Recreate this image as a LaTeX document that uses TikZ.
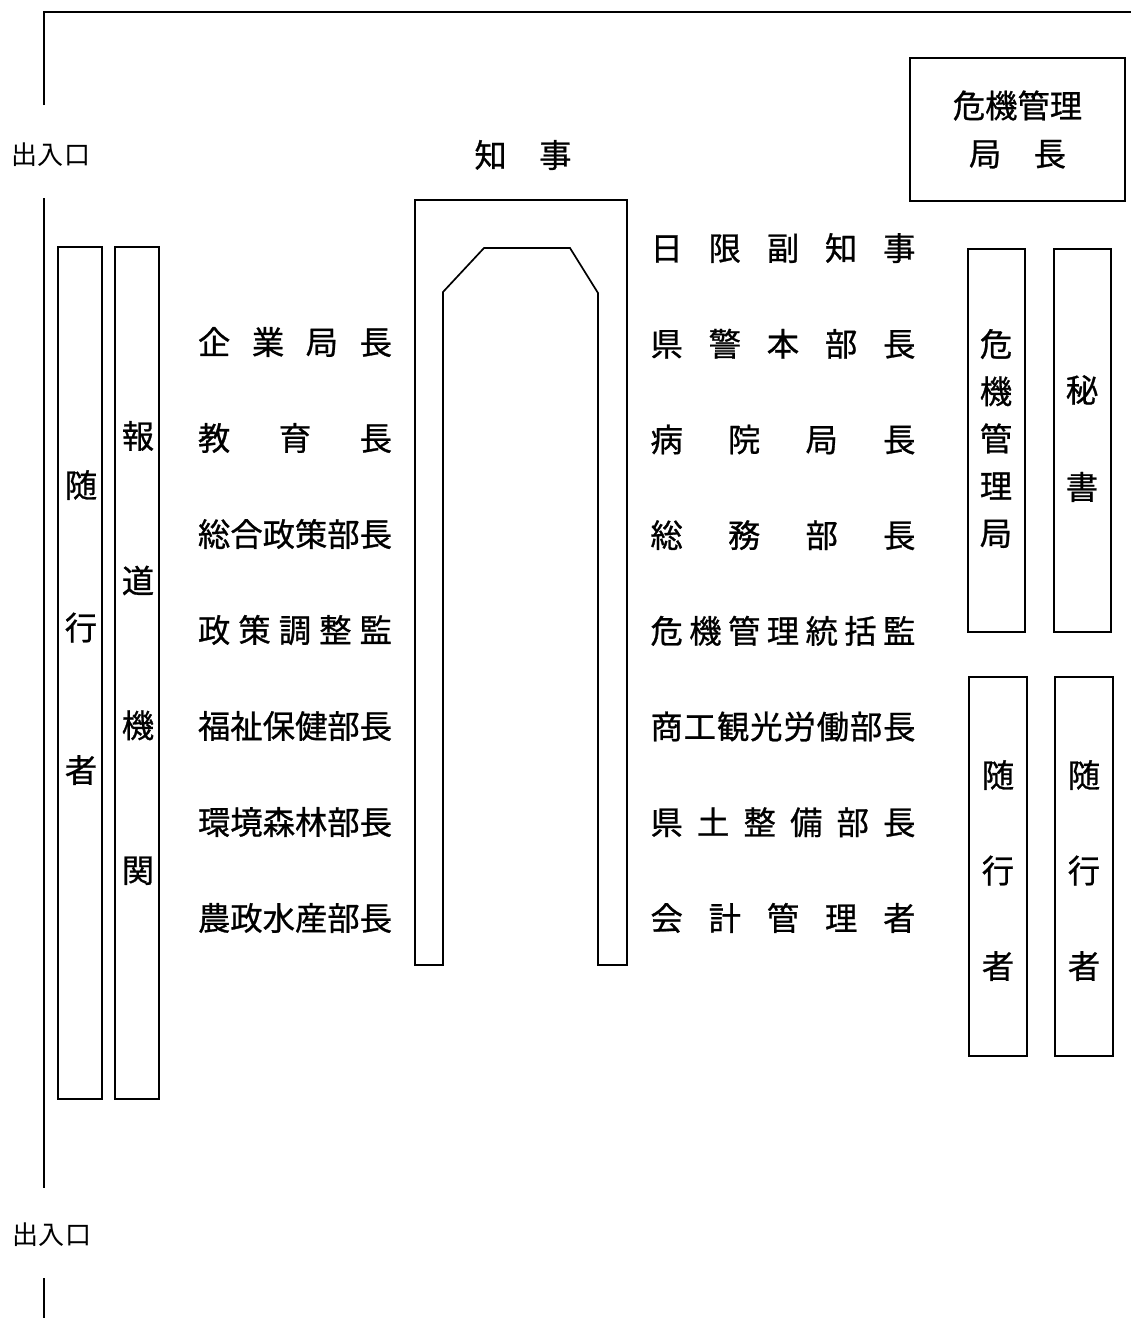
\documentclass[tikz,border=0pt]{standalone}
\usepackage{fontspec}
\newfontfamily\jfont[FakeBold=0.8]{Noto Sans CJK JP}
\newfontfamily\dfont{Noto Sans CJK JP}
\usetikzlibrary{matrix}
\newlength\px
\setlength\px{0.025cm}
\newcommand\spr[2]{\makebox[#1\px][s]{\spaceskip=0pt plus 1fil\relax #2}}

\begin{document}
\begin{tikzpicture}[x=0.025cm, y=-0.025cm,
  wall/.style={line width=1.2pt},
  seat/.style={draw, line width=1.2pt, inner sep=0pt},
  lbl/.style={font={\jfont\fontsize{23}{28}\selectfont}, inner sep=0pt},
  vlbl/.style={align=center, inner sep=0pt, font={\jfont\fontsize{23}{#1\px}\selectfont}},
  door/.style={font={\dfont\fontsize{18.5}{22}\selectfont}, inner sep=0pt}]
  \useasboundingbox (0,0) rectangle (1131,1318);
  \draw[wall] (44,105) -- (44,12) -- (1131,12);
  \draw[wall] (44,198) -- (44,1188);
  \draw[wall] (44,1278) -- (44,1318);
  \node[door] (in1) at (51,155) {出入口};
  \node[door] (in2) at (52,1235) {出入口};
  \node[lbl] (chiji) at (523,155) {知　事};
  \draw[wall] (443,965) -- (415,965) -- (415,200) -- (627,200) -- (627,965)
    -- (598,965) -- (598,293) -- (570,248) -- (484,248) -- (443,292) -- cycle;
  \node[seat, minimum width=215\px, minimum height=143\px, align=center,
    font={\jfont\fontsize{23}{48\px}\selectfont}] (kyoku) at (1017.5,129.5) {危機管理\\局　長};
  \node[seat, minimum width=44\px, minimum height=852\px] (zuiL) at (80,673) {};
  \node[seat, minimum width=44\px, minimum height=852\px] (hodo) at (137,673) {};
  \node[seat, minimum width=57\px, minimum height=383\px] (kiki) at (996.5,440.5) {};
  \node[seat, minimum width=57\px, minimum height=383\px] (hisho) at (1082.5,440.5) {};
  \node[seat, minimum width=58\px, minimum height=379\px] (zuiRa) at (998,866.5) {};
  \node[seat, minimum width=58\px, minimum height=379\px] (zuiRb) at (1084,866.5) {};
  \node[vlbl=142.5] (zuiL-t) at (81,627.5) {随\\行\\者};
  \node[vlbl=144.7] (hodo-t) at (138,653) {報\\道\\機\\関};
  \node[vlbl=47.25] (kiki-t) at (996,438.5) {危\\機\\管\\理\\局};
  \node[vlbl=97] (hisho-t) at (1082,438.5) {秘\\書};
  \node[vlbl=95.5] (zuiRa-t) at (998,870.5) {随\\行\\者};
  \node[vlbl=95.5] (zuiRb-t) at (1084,870.5) {随\\行\\者};
  \matrix (lft) [matrix of nodes, nodes={lbl, anchor=center, minimum height=96\px}, row sep=0pt, inner sep=0pt]
    at (295,630)
  {
\spr{194}{企 業 局 長} \\
\spr{194}{教 育 長} \\
\spr{194}{総 合 政 策 部 長} \\
\spr{194}{政 策 調 整 監} \\
\spr{194}{福 祉 保 健 部 長} \\
\spr{194}{環 境 森 林 部 長} \\
\spr{194}{農 政 水 産 部 長} \\
};
  \matrix (rgt) [matrix of nodes, nodes={lbl, anchor=center, minimum height=95.7\px}, row sep=0pt, inner sep=0pt]
    at (783,583)
  {
\spr{265}{日 限 副 知 事} \\
\spr{265}{県 警 本 部 長} \\
\spr{265}{病 院 局 長} \\
\spr{265}{総 務 部 長} \\
\spr{265}{危 機 管 理 統 括 監} \\
\spr{265}{商 工 観 光 労 働 部 長} \\
\spr{265}{県 土 整 備 部 長} \\
\spr{265}{会 計 管 理 者} \\
};
\end{tikzpicture}
\end{document}
